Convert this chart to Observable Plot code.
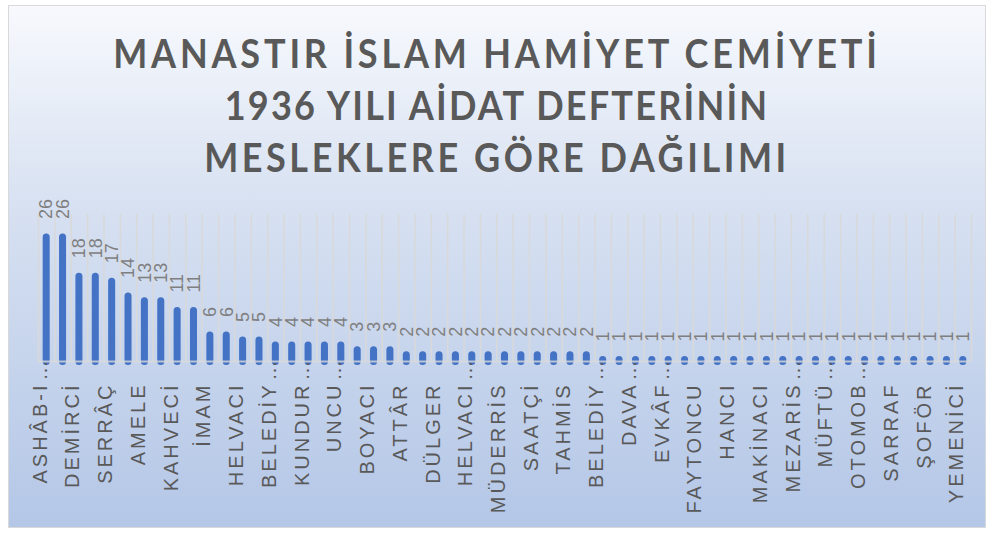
<!DOCTYPE html>
<html><head><meta charset="utf-8">
<script src="https://cdn.jsdelivr.net/npm/d3@7"></script>
<script src="https://cdn.jsdelivr.net/npm/@observablehq/plot@0.6"></script>
<style>
html,body{margin:0;padding:0;background:#fff;}
#chart{position:absolute;left:8px;top:5px;width:976px;height:521px;border:1px solid #d9d9d9;background:linear-gradient(to bottom,#f7f9fd 0%,#d6e0f1 40%,#b4c7e7 100%);overflow:hidden;}
#title{position:absolute;left:0;top:21px;width:100%;text-align:center;font-family:Lato,"Open Sans",sans-serif;font-weight:700;font-size:41px;line-height:52px;letter-spacing:4.3px;color:#595959;transform:scaleX(0.88);transform-origin:center top;}
#title div{white-space:nowrap;}
#title div:nth-child(2){letter-spacing:2.5px;}
#title div:nth-child(3){letter-spacing:4px;}
#plot{position:absolute;left:0;top:185px;}
</style></head>
<body>
<div id="chart"><div id="title"></div><div id="plot"></div></div>
<script>
const titleLines = ["MANASTIR İSLAM HAMİYET CEMİYETİ", "1936 YILI AİDAT DEFTERİNİN", "MESLEKLERE GÖRE DAĞILIMI"];
const counts = [26,26,18,18,17,14,13,13,11,11,6,6,5,5,4,4,4,4,4,3,3,3,
  2,2,2,2,2,2,2,2,2,2,2,2,
  1,1,1,1,1,1,1,1,1,1,1,1,1,1,1,1,1,1,1,1,1,1,1];
const tickLabels = ["ASHÂB-I…","DEMİRCİ","SERRÂÇ","AMELE","KAHVECİ","İMAM","HELVACI","BELEDİY…","KUNDUR…","UNCU…",
  "BOYACI","ATTÂR","DÜLGER","HELVACI…","MÜDERRİS","SAATÇİ","TAHMİS","BELEDİY…","DAVA…","EVKÂF…",
  "FAYTONCU","HANCI","MAKİNACI","MEZARİS…","MÜFTÜ…","OTOMOB…","SARRAF","ŞOFÖR","YEMENİCİ"];

document.getElementById("title").innerHTML = titleLines.map(t => `<div>${t}</div>`).join("");

const data = counts.map((v, i) => ({idx: i + 1, v}));
const ticks = tickLabels.map((t, i) => ({idx: 2 * i + 1, name: t.replace("…", ""), cut: t.endsWith("…")}));

const W = 976, ML = 29, MR = 14;
const step = (W - ML - MR) / counts.length;
const font = "'Liberation Sans', Arial, sans-serif";

const chart = Plot.plot({
  width: W, height: 320, marginTop: 23, marginBottom: 150, marginLeft: ML, marginRight: MR,
  style: {background: "transparent", fontFamily: font, overflow: "visible"},
  x: {type: "band", domain: data.map(d => d.idx), paddingInner: 0.57, paddingOuter: 0.285, round: false, axis: null},
  y: {domain: [0, 30], axis: null},
  marks: [
    Plot.ruleX(data, {x: "idx", dx: -step / 2, stroke: "#d9d9d9", strokeWidth: 1.5}),
    Plot.ruleX(data.slice(-1), {x: "idx", dx: step / 2, stroke: "#d9d9d9", strokeWidth: 1.5}),
    Plot.barY(data, {x: "idx", y: "v", fill: "#4472c4", rx: 3.5, insetBottom: -4}),
    Plot.ruleY([0], {stroke: "#d9d9d9", strokeWidth: 2, strokeOpacity: 0.8}),
    Plot.text(data, {x: "idx", y: "v", text: d => String(d.v), rotate: -90, textAnchor: "start", dy: -15, fill: "#7f7f7f", fontSize: 18}),
    Plot.text(ticks, {x: "idx", frameAnchor: "bottom", text: "name", rotate: -90, textAnchor: "end", dy: 21, fill: "#595959", fontSize: 20}),
    Plot.text(ticks.filter(d => d.cut), {x: "idx", frameAnchor: "bottom", text: () => "…", rotate: -90, textAnchor: "start", dy: 19, fill: "#595959", fontSize: 20})
  ]
});
d3.select(chart).selectAll("text").filter(function() { return /[^0-9]/.test(this.textContent); }).attr("letter-spacing", 3);
document.getElementById("plot").appendChild(chart);
</script>
</body></html>
